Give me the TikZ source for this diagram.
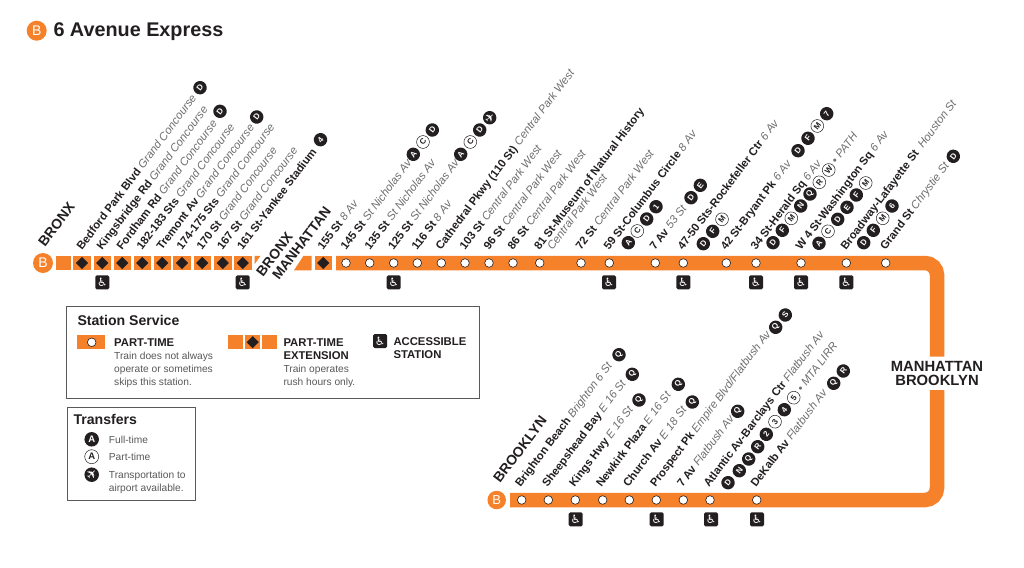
\documentclass[tikz,border=0pt]{standalone}
\usepackage{fontspec}
\usetikzlibrary{shapes.geometric}
\setmainfont{Liberation Sans}
\newfontfamily\symfont{DejaVu Sans}
\definecolor{lineorange}{HTML}{F5822A}
\definecolor{inkblack}{HTML}{231F20}
\definecolor{roadgray}{HTML}{6D6E71}
\definecolor{keygray}{HTML}{58595B}
\newcommand{\fsize}[1]{\fontsize{#1}{#1}\selectfont}
\newcommand{\stnlabel}[2]{\textbf{#1} \textcolor{roadgray}{\textit{#2}}}
\tikzset{
  band/.style={lineorange,line width=14.5pt},
  stationdot/.style={circle,draw=inkblack,fill=white,line width=0.6pt,minimum size=8.6pt,inner sep=0pt},
  squarepiece/.style={fill=lineorange,draw=none,minimum width=17.6pt,minimum height=14.5pt,inner sep=0pt},
  rushdot/.style={diamond,fill=inkblack,minimum size=12.3pt,inner sep=0pt},
  access/.style={fill=inkblack,rounded corners=1.5pt,minimum size=14pt,inner sep=0pt,text=white,font=\symfont\fsize{11.5}},
  stnname/.style={rotate=53,anchor=base west,inner sep=0pt,text=inkblack,font=\fsize{11.3}},
  boro/.style={rotate=53,anchor=base west,inner sep=0pt,text=inkblack,font=\bfseries\fsize{14}},
  fullbul/.style={circle,fill=inkblack,text=white,minimum size=13.4pt,inner sep=0pt,font=\bfseries\fsize{8},rotate=53},
  partbul/.style={circle,draw=inkblack,fill=white,text=inkblack,line width=0.5pt,minimum size=12.8pt,inner sep=0pt,font=\bfseries\fsize{8},rotate=53},
  lineB/.style={circle,fill=lineorange,text=white,inner sep=0pt},
  keybox/.style={draw=keygray,line width=0.9pt,fill=none},
  keyhead/.style={anchor=base west,inner sep=0pt,text=inkblack,font=\bfseries\fsize{14.1}},
  keybold/.style={anchor=base west,inner sep=0pt,text=inkblack,font=\bfseries\fsize{11.3}},
  keytext/.style={anchor=base west,inner sep=0pt,text=keygray,font=\fsize{10.2}}
}
\begin{document}
\begin{tikzpicture}[x=1pt,y=-1pt]
\useasboundingbox (0,0) rectangle (1024,567);
\fill[white] (0,0) rectangle (1024,567);

% title
\node[lineB,minimum size=20pt,font=\fsize{14}] (titleB) at (36.7,30.7) {B};
\node[anchor=base west,inner sep=0pt,text=inkblack,font=\bfseries\fsize{19.8}] (title) at (53.3,36.7) {6 Avenue Express};

% route band
\draw[band,rounded corners=12pt] (336,263) -- (937,263) -- (937,356.7);
\draw[band,rounded corners=12pt] (937,390) -- (937,500) -- (510,500);
\fill[lineorange] (56.3,255.8) rectangle (70.7,270.3);
\fill[lineorange] (254.7,255.8) -- (260.5,255.8) -- (254.7,264) -- cycle;
\fill[lineorange] (294,270.3) -- (303.5,255.8) -- (311.7,255.8) -- (311.7,270.3) -- cycle;

% part-time extension squares
\foreach \x [count=\n] in {82,102.3,122.3,142.3,162.3,182,202.3,222.7,242.7,323.3}{
  \node[squarepiece] (sq\n) at (\x,263) {};
  \node[rushdot] (rush\n) at (\x,263) {};
}

% stations
\foreach \x [count=\n] in {346,369.7,393.7,417.3,441.3,465,489,513,539.7,581,609.3,655.3,683.3,726.3,756,801,846.3,885.7}{
  \node[stationdot] (top\n) at (\x,263) {};
}
\foreach \x [count=\n] in {521.7,548.3,575.3,602.7,629.3,656.3,683.3,710,756.7}{
  \node[stationdot] (bot\n) at (\x,500) {};
}
\node[lineB,minimum size=20pt,font=\fsize{14}] (bronxB) at (43,263) {B};
\node[lineB,minimum size=18.5pt,font=\fsize{13}] (brooklynB) at (496.7,500) {B};

% accessible stations
\foreach \x [count=\n] in {102.3,242.7,393.7,609,683.3,756,801,846.3}{
  \node[access] (acc\n) at (\x,282.3) {♿};
}
\foreach \x [count=\n] in {575.7,656.7,711,757}{
  \node[access] (accb\n) at (\x,519.3) {♿};
}

% boroughs
\node[boro] (bronx) at (45,248) {BRONX};
\node[boro] (bronxm) at (263,278) {BRONX};
\node[boro] (manh) at (279,281) {MANHATTAN};
\node[boro] (bklyn) at (500,484) {BROOKLYN};
\node[text=inkblack,font=\bfseries\fsize{14.8},align=center,inner sep=0pt] (manbk) at (937,373.5) {MANHATTAN\\[-0.4pt]BROOKLYN};

% bronx and manhattan labels
\node[stnname] (l1) at (82,251) {\stnlabel{Bedford Park Blvd}{Grand Concourse}};
\node[stnname] (l2) at (102,251) {\stnlabel{Kingsbridge Rd}{Grand Concourse}};
\node[stnname] (l3) at (122,251) {\stnlabel{Fordham Rd}{Grand Concourse}};
\node[stnname] (l4) at (142,251) {\stnlabel{182-183 Sts}{Grand Concourse}};
\node[stnname] (l5) at (162,251) {\stnlabel{Tremont Av}{Grand Concourse}};
\node[stnname] (l6) at (182,251) {\stnlabel{174-175 Sts}{Grand Concourse}};
\node[stnname] (l7) at (202,251) {\stnlabel{170 St}{Grand Concourse}};
\node[stnname] (l8) at (222.5,251) {\stnlabel{167 St}{Grand Concourse}};
\node[stnname] (l9) at (242.5,251) {\stnlabel{161 St-Yankee Stadium}{}};
\node[stnname] (l10) at (323,251) {\stnlabel{155 St}{8 Av}};
\node[stnname] (l11) at (346,251) {\stnlabel{145 St}{St Nicholas Av}};
\node[stnname] (l12) at (370,251) {\stnlabel{135 St}{St Nicholas Av}};
\node[stnname] (l13) at (393.5,251) {\stnlabel{125 St}{St Nicholas Av}};
\node[stnname] (l14) at (417,251) {\stnlabel{116 St}{8 Av}};
\node[stnname] (l15) at (441,251) {\stnlabel{Cathedral Pkwy (110 St)}{Central Park West}};
\node[stnname] (l16) at (465,251) {\stnlabel{103 St}{Central Park West}};
\node[stnname] (l17) at (489,251) {\stnlabel{96 St}{Central Park West}};
\node[stnname] (l18) at (513,251) {\stnlabel{86 St}{Central Park West}};
\node[stnname] (l19) at (539.5,251) {\stnlabel{81 St-Museum of Natural History}{}};
\node[stnname] (l19b) at (552.5,251) {\textcolor{roadgray}{\textit{Central Park West}}};
\node[stnname] (l20) at (581,251) {\stnlabel{72 St}{Central Park West}};
\node[stnname] (l21) at (609,251) {\stnlabel{59 St-Columbus Circle}{8 Av}};
\node[stnname] (l22) at (655,251) {\stnlabel{7 Av}{53 St}};
\node[stnname] (l23) at (683,251) {\stnlabel{47-50 Sts-Rockefeller Ctr}{6 Av}};
\node[stnname] (l24) at (726,251) {\stnlabel{42 St-Bryant Pk}{6 Av}};
\node[stnname] (l25) at (756,251) {\stnlabel{34 St-Herald Sq}{6 Av}};
\node[stnname] (l26) at (801,251) {\stnlabel{W 4 St-Washington Sq}{6 Av}};
\node[stnname] (l27) at (846,251) {\stnlabel{Broadway-Lafayette St\ }{Houston St}};
\node[stnname] (l28) at (885.5,251) {\stnlabel{Grand St}{Chrystie St}};
\node[stnname] (l25b) at (836.6,164.8) {\textcolor{roadgray}{\textit{• PATH}}};

% brooklyn labels
\node[stnname] (k1) at (520.5,488) {\stnlabel{Brighton Beach}{Brighton 6 St}};
\node[stnname] (k2) at (547.5,488) {\stnlabel{Sheepshead Bay}{E 16 St}};
\node[stnname] (k3) at (574.5,488) {\stnlabel{Kings Hwy}{E 16 St}};
\node[stnname] (k4) at (601.5,488) {\stnlabel{Newkirk Plaza}{E 16 St}};
\node[stnname] (k5) at (628.5,488) {\stnlabel{Church Av}{E 18 St}};
\node[stnname] (k6) at (655.5,488) {\stnlabel{Prospect Pk}{Empire Blvd/Flatbush Av}};
\node[stnname] (k7) at (682.5,488) {\stnlabel{7 Av}{Flatbush Av}};
\node[stnname] (k8) at (709,488) {\stnlabel{Atlantic Av-Barclays Ctr}{Flatbush Av}};
\node[stnname] (k9) at (756,488) {\stnlabel{DeKalb Av}{Flatbush Av}};
\node[stnname] (k8b) at (802.3,392.8) {\textcolor{roadgray}{\textit{• MTA LIRR}}};

% transfers, full-time
\foreach \x/\y/\c [count=\n] in {200/87.7/D,220/111.3/D,256.7/117/D,320.5/139.7/4,413.3/154.3/A,432.3/130/D,460.7/154.3/A,479.7/130/D,
  628.3/242.7/A,646.7/219/D,656/206.7/1,691/197.7/D,700.3/185.3/E,703.3/243.7/D,712.7/231.3/F,798/150.7/D,808/138.3/F,826.7/113.7/7,
  773/242.7/D,782.3/230.3/F,800.7/206/N,810/194/Q,819/243.3/A,837.7/219.3/D,847/207.3/E,856.3/195/F,863.7/242.7/D,873.3/230.3/F,892/206/6,953.3/156.3/D,
  619/354.7/Q,632.3/374.3/Q,639/400/Q,678.3/384.3/Q,692.3/402/Q,737.7/411.3/Q,775.7/327.3/Q,785.3/315/S,833.7/383.3/Q,843.3/371/R,
  728/482.7/D,739.3/470.7/N,748.7/459/Q,757.7/446.7/R,766.3/434.3/2,784.3/409.7/4}{
  \node[fullbul] (f\n) at (\x,\y) {\c};
}
% transfers, part-time
\foreach \x/\y/\c [count=\n] in {423/142/C,470.3/142/C,637.3/231/C,722/219.3/M,817.3/126/M,791.3/218.3/M,819.3/182.3/R,828.7/170/W,
  828/231.3/C,865.7/183/M,882.7/218.3/M,775/421.7/3,793.7/397.7/5}{
  \node[partbul] (p\n) at (\x,\y) {\c};
}
\node[fullbul,rotate=-13,font=\symfont\fsize{12}] (plane) at (489.7,117.7) {✈};

% station service key
\draw[keybox] (66,306) rectangle (479.3,398.3);
\node[keyhead] (svc) at (77.3,325.3) {Station Service};
\fill[lineorange] (77.3,335) rectangle (105,349.3);
\node[stationdot] (keystop) at (91.7,342.3) {};
\node[keybold] (kp1) at (114,346.7) {PART-TIME};
\node[keytext] (kp2) at (114,359.3) {Train does not always};
\node[keytext] (kp3) at (114,372) {operate or sometimes};
\node[keytext] (kp4) at (114,385) {skips this station.};
\fill[lineorange] (227.7,335) rectangle (242.7,349.3);
\fill[lineorange] (245,335) rectangle (260,349.3);
\fill[lineorange] (262.3,335) rectangle (277.3,349.3);
\node[rushdot] (keyrush) at (252.7,342.2) {};
\node[keybold] (ke1) at (283.3,346.7) {PART-TIME};
\node[keybold] (ke2) at (283.3,359.3) {EXTENSION};
\node[keytext] (ke3) at (283.3,372) {Train operates};
\node[keytext] (ke4) at (283.3,385) {rush hours only.};
\node[access] (keyacc) at (380,341) {♿};
\node[keybold] (ka1) at (393.3,345) {ACCESSIBLE};
\node[keybold] (ka2) at (393.3,358) {STATION};

% transfers key
\draw[keybox] (67.3,407.3) rectangle (195.3,500);
\node[keyhead] (trn) at (73.3,424) {Transfers};
\node[fullbul,rotate=-53,minimum size=14.5pt,font=\bfseries\fsize{9.5}] (tfull) at (91.7,439.3) {A};
\node[partbul,rotate=-53,minimum size=14pt,font=\bfseries\fsize{9.5}] (tpart) at (91.7,456.7) {A};
\node[fullbul,rotate=-8,minimum size=14.5pt,font=\symfont\fsize{13}] (tplane) at (91.7,474.7) {✈};
\node[keytext] (t1) at (108.7,443.3) {Full-time};
\node[keytext] (t2) at (108.7,460.7) {Part-time};
\node[keytext] (t3) at (108.7,478) {Transportation to};
\node[keytext] (t4) at (108.7,491) {airport available.};
\end{tikzpicture}
\end{document}
